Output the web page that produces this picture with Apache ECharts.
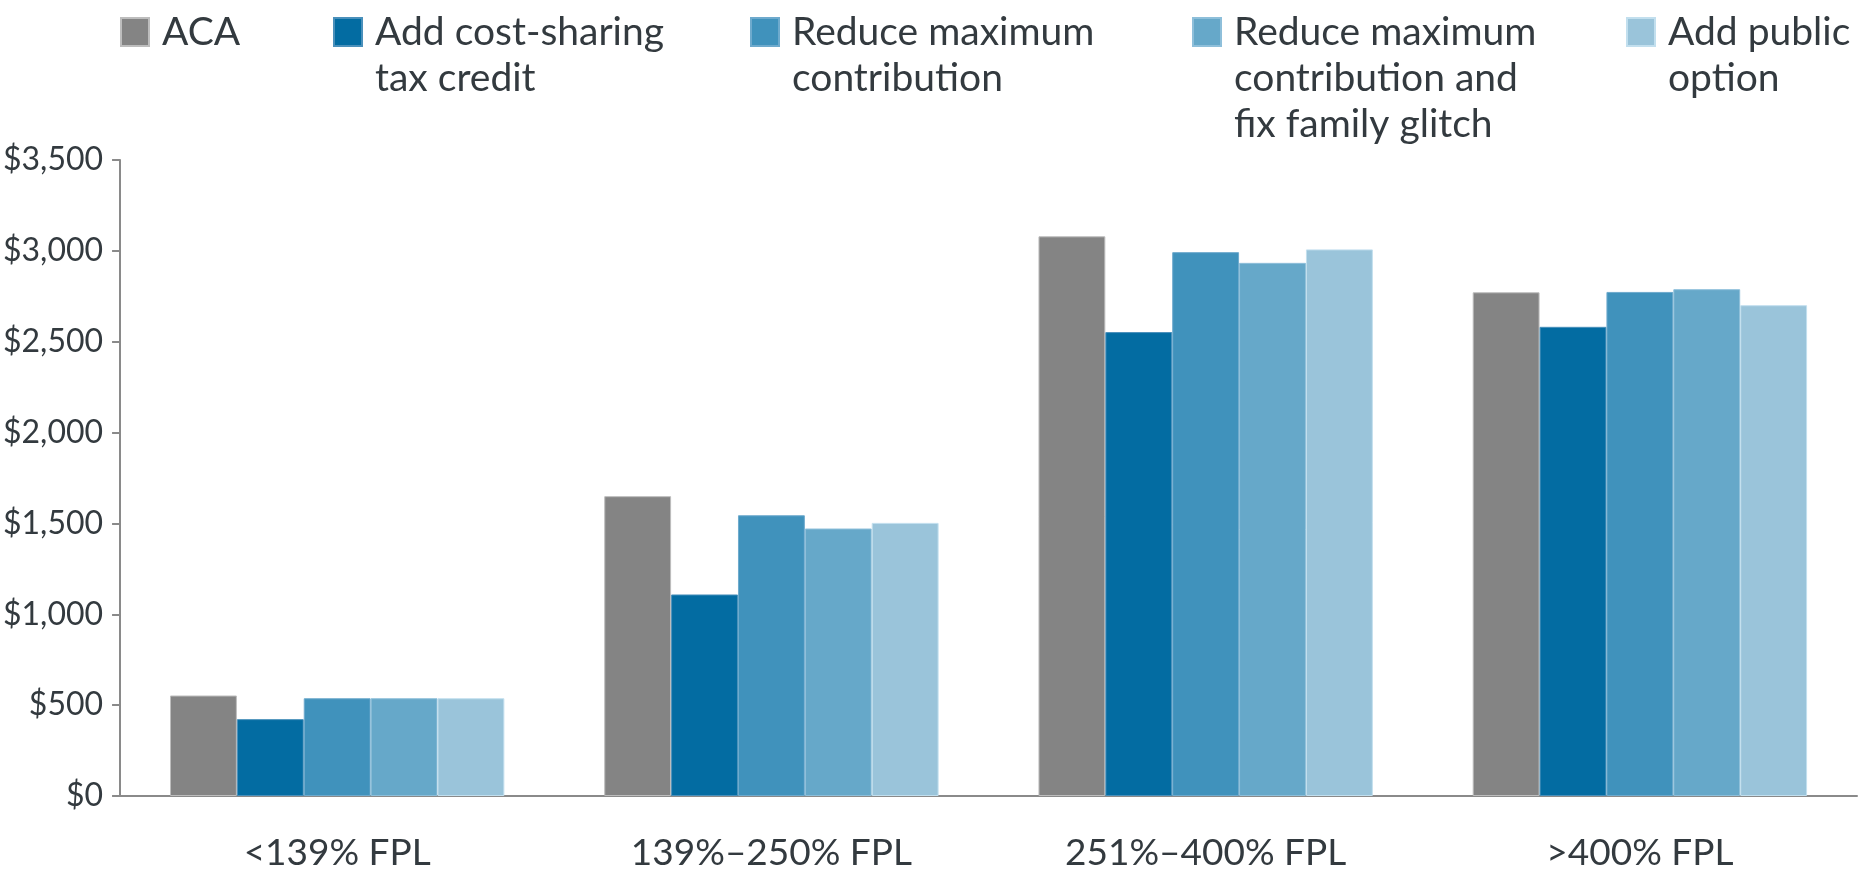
<!DOCTYPE html>
<html>
<head>
<meta charset="utf-8">
<script src="https://cdn.jsdelivr.net/npm/echarts@6/dist/echarts.min.js"></script>
<style>
html,body{margin:0;padding:0;background:#fff;}
#chart{width:1864px;height:872px;}
</style>
</head>
<body>
<div id="chart"></div>
<script>
const categories = ['<139% FPL', '139%–250% FPL', '251%–400% FPL', '>400% FPL'];
const seriesNames = ['ACA', 'Add cost-sharing tax credit', 'Reduce maximum contribution', 'Reduce maximum contribution and fix family glitch', 'Add public option'];
const legendLabels = ['ACA', 'Add cost-sharing\ntax credit', 'Reduce maximum\ncontribution', 'Reduce maximum\ncontribution and\nfix family glitch', 'Add public\noption'];
const acaValues = [553, 1650, 3080, 2772];
const costSharingValues = [423, 1109, 2553, 2582];
const reduceMaxValues = [538, 1545, 2993, 2774];
const reduceMaxFixValues = [538, 1472, 2934, 2789];
const publicOptionValues = [538, 1503, 3008, 2701];
const yTicks = [0, 500, 1000, 1500, 2000, 2500, 3000, 3500];

const allValues = [acaValues, costSharingValues, reduceMaxValues, reduceMaxFixValues, publicOptionValues];
const colors = ['#848484', '#036ca2', '#4092bc', '#66a8c9', '#9ac4da'];
const borders = ['#bdbdbd', '#4a90bb', '#6eaacd', '#8ebfda', '#c2dfee'];
const legendIconLeft = [120, 333, 750, 1192, 1626];
const ICON_CENTER_Y = 32;
const FONT = 'Lato';
const LH = 46;

const chart = echarts.init(document.getElementById('chart'), null, {renderer: 'canvas'});

const legends = seriesNames.map((name, i) => {
  const lines = legendLabels[i].split('\n');
  const n = lines.length;
  // blank lines above keep the first text line aligned with the icon
  const text = new Array(n - 1).fill('').concat(lines).join('\n');
  return {
    left: legendIconLeft[i] - 5,
    top: ICON_CENTER_Y - (2 * n - 1) * LH / 2 - 5,
    orient: 'horizontal',
    icon: 'rect',
    itemWidth: 28,
    itemHeight: 28,
    itemGap: 0,
    selectedMode: false,
    data: [{name: name}],
    formatter: () => text,
    textStyle: {
      fontFamily: FONT,
      fontSize: 39,
      lineHeight: LH,
      color: '#333a3f',
      padding: [0, 0, 0, 8]
    }
  };
});

const option = {
  backgroundColor: '#ffffff',
  animation: false,
  color: colors,
  legend: legends,
  grid: {left: 119, right: 7, top: 160, bottom: 74, containLabel: false},
  xAxis: {
    type: 'category',
    data: categories,
    axisLine: {show: true, lineStyle: {color: '#8a8a8a', width: 2}},
    axisTick: {show: false},
    axisLabel: {fontFamily: FONT, fontSize: 37, color: '#333a3f', margin: 39}
  },
  yAxis: {
    type: 'value',
    min: yTicks[0],
    max: yTicks[yTicks.length - 1],
    interval: 500,
    splitLine: {show: false},
    axisLine: {show: true, lineStyle: {color: '#8a8a8a', width: 2}},
    axisTick: {show: true, length: 8, inside: false, lineStyle: {color: '#8a8a8a', width: 2}},
    axisLabel: {
      fontFamily: FONT, fontSize: 32, color: '#333a3f', margin: 17,
      formatter: v => '$' + v.toLocaleString('en-US')
    }
  },
  series: seriesNames.map((name, i) => ({
    name: name,
    type: 'bar',
    data: allValues[i],
    barGap: '0%',
    barCategoryGap: '23%',
    itemStyle: {color: colors[i], borderColor: borders[i], borderWidth: 1}
  }))
};
chart.setOption(option);
</script>
</body>
</html>
